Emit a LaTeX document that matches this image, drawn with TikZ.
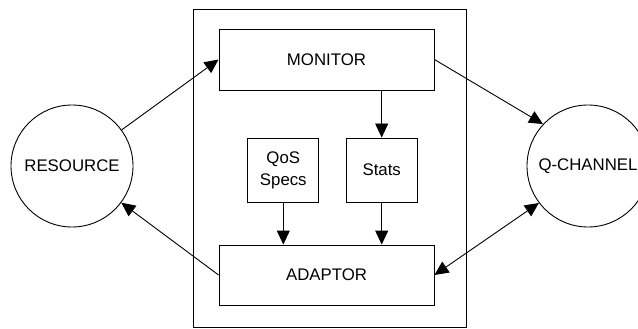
\documentclass[tikz,border=0pt]{standalone}
\usepackage{fontspec}
\setmainfont{Liberation Sans}
\usetikzlibrary{arrows.meta}
\begin{document}
\begin{tikzpicture}[x=1pt,y=-1pt,
  every node/.style={font=\fontsize{16.8}{22}\selectfont, inner sep=0pt},
  box/.style={draw, line width=0.9pt, rectangle},
  circ/.style={draw, line width=0.9pt, circle, minimum size=122pt},
  conn/.style={line width=0.9pt, -{Triangle[length=14pt,width=13pt]}},
  conn2/.style={line width=0.9pt, {Triangle[length=14pt,width=13pt]}-{Triangle[length=14pt,width=13pt]}}]
\useasboundingbox (0,0) rectangle (638,329);
\clip (0,0) rectangle (638,329);
\node[box, minimum width=273pt, minimum height=318pt] (outer) at (329.7,168.7) {};
\node[box, minimum width=215pt, minimum height=61pt] (monitor) at (326.5,59.5) {MONITOR};
\node[box, minimum width=215pt, minimum height=60pt] (adaptor) at (326.5,275) {ADAPTOR};
\node[box, minimum width=71pt, minimum height=64pt, align=center] (qos) at (283.3,170) {QoS\\Specs};
\node[box, minimum width=71pt, minimum height=64pt] (stats) at (381.7,170) {Stats};
\node[circ] (resource) at (72,166) {RESOURCE};
\node[circ] (qchannel) at (588,166) {Q-CHANNEL};
\draw[conn] (resource) -- (monitor.west);
\draw[conn] (adaptor.west) -- (resource);
\draw[conn] (monitor.east) -- (qchannel.137);
\draw[conn2] (adaptor.east) -- (qchannel.217);
\draw[conn] (monitor.south -| stats.north) -- (stats.north);
\draw[conn] (qos.south) -- (qos.south |- adaptor.north);
\draw[conn] (stats.south) -- (stats.south |- adaptor.north);
\end{tikzpicture}
\end{document}
